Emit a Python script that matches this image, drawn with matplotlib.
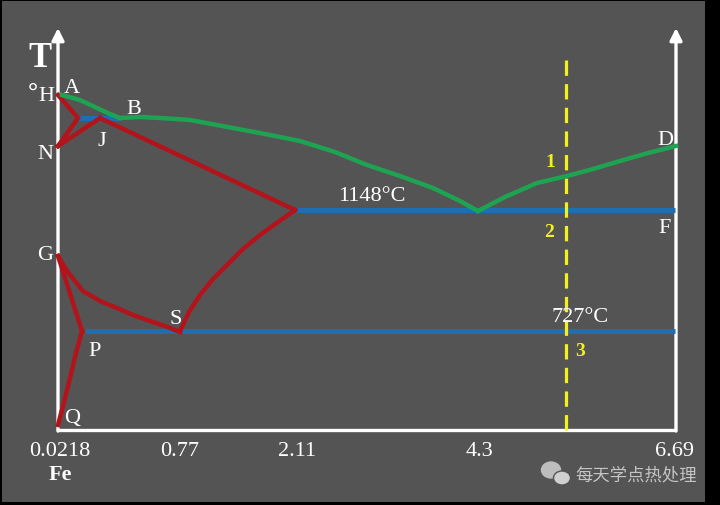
import matplotlib.pyplot as plt
from matplotlib.patches import Ellipse

# schematic Fe-C diagram, coordinates (pixel-like units)
red_lines = {
    'HN': ([58, 78, 58], [97, 120, 148]),
    'NJ': ([58, 100], [148, 120]),
    'JE': ([100, 295], [120, 212]),
    'ES': ([295, 278, 260, 243, 227, 213, 200, 189, 180],
           [212, 224, 237, 251, 267, 281, 297, 314, 333]),
    'GS': ([58, 67, 83, 100, 117, 133, 150, 165, 180],
           [258, 273, 293, 303, 310, 317, 323, 328, 334]),
    'GP': ([58, 82], [258, 333]),
    'PQ': ([82, 76, 70, 64, 58], [333, 355, 380, 404, 427]),
}
blue_lines = {
    'HJB': ([78, 120], [120, 120]),
    'ECF': ([295, 675], [212, 212]),
    'PSK': ([85, 675], [333, 333]),
}
green_lines = {
    'AB': ([62, 80, 97, 110, 120], [97, 102, 110, 116, 120]),
    'BC': ([120, 140, 160, 190, 233, 265, 300, 335, 367, 400, 433, 460, 478],
           [120, 119, 120, 122, 130, 136, 143, 154, 167, 178, 190, 203, 213]),
    'CD': ([478, 505, 537, 567, 593, 620, 648, 676],
           [213, 199, 185, 178, 171, 163, 155, 148]),
}
point_labels = [('A', 72, 89), ('B', 134, 110), ('J', 102, 142), ('H', 46, 97),
                ('N', 45, 155), ('G', 45, 256), ('S', 176, 321), ('P', 95, 352),
                ('Q', 72, 419), ('D', 665, 141), ('F', 665, 229)]
tick_labels = ['0.0218', '0.77', '2.11', '4.3', '6.69']
tick_pos = [60, 180, 297, 480, 675]
temps = [('1148°C', 372, 197), ('727°C', 580, 318)]
zones = [('1', 550, 163), ('2', 549, 233), ('3', 580, 352)]
alloy_x = 566

RED = '#b3141b'
BLUE = '#1f6db3'
GREEN = '#1ea352'
YELLOW = '#f2f01e'
SERIF = ['Liberation Serif', 'Noto Sans CJK SC']

fig = plt.figure(figsize=(7.2, 5.06), dpi=100, facecolor='black')
ax = fig.add_axes([2 / 720, 3 / 506, 703 / 720, 501 / 506])
ax.set_facecolor('#545454')
ax.set_xlim(2, 705)
ax.set_ylim(504, 3)
ax.axis('off')
ax.add_patch(plt.Rectangle((2, 3), 703, 501, color='#545454', zorder=0))

# axes of the diagram
ax.plot([58, 675], [432, 432], color='white', lw=2.4, zorder=2)
for x in (58, 676):
    ax.annotate('', xy=(x, 30), xytext=(x, 433),
                arrowprops=dict(arrowstyle='-|>', color='white', lw=2.4,
                                mutation_scale=18, shrinkA=0, shrinkB=0), zorder=2)

for xs, ys in blue_lines.values():
    ax.plot(xs, ys, color=BLUE, lw=3.6, solid_capstyle='butt', zorder=3)
for xs, ys in red_lines.values():
    ax.plot(xs, ys, color=RED, lw=3.2, solid_joinstyle='miter', zorder=4)
for xs, ys in green_lines.values():
    ax.plot(xs, ys, color=GREEN, lw=3.2, zorder=5)

ax.plot([alloy_x, alloy_x], [62, 432], color=YELLOW, lw=2.3,
        linestyle=(0, (4.8, 2.6)), zorder=6)

for s, x, y in point_labels:
    ax.text(x, y, s, color='white', fontsize=16, family=SERIF, ha='center', va='center', zorder=7)
ax.text(40, 59, 'T', color='white', fontsize=25, family=SERIF, weight='bold',
        ha='center', va='center')
ax.text(33, 93, '°', color='white', fontsize=18, family=SERIF, weight='bold',
        ha='center', va='center')
for s, x, y in temps:
    ax.text(x, y, s, color='white', fontsize=16, family=SERIF, ha='center', va='center', zorder=7)
for s, x, y in zones:
    ax.text(x, y, s, color=YELLOW, fontsize=14, family=SERIF, weight='bold',
            ha='center', va='center', zorder=7)
for s, x in zip(tick_labels, tick_pos):
    ax.text(x, 453, s, color='white', fontsize=16, family=SERIF, ha='center', va='center')
ax.text(60, 476, 'Fe', color='white', fontsize=16, family=SERIF, weight='bold',
        ha='center', va='center')

# watermark
ax.add_patch(Ellipse((551, 472), 19, 16, color='#bdbdbd', zorder=7))
ax.add_patch(Ellipse((562, 480), 17, 14, color='#d0d0d0', ec='#545454', lw=1, zorder=8))
ax.text(636, 476, '每天学点热处理', color='#c4c4c4', fontsize=12.5,
        family=['Noto Sans CJK SC', 'DejaVu Sans'], ha='center', va='center', zorder=8)

fig.savefig('out.png', dpi=100, facecolor=fig.get_facecolor())
